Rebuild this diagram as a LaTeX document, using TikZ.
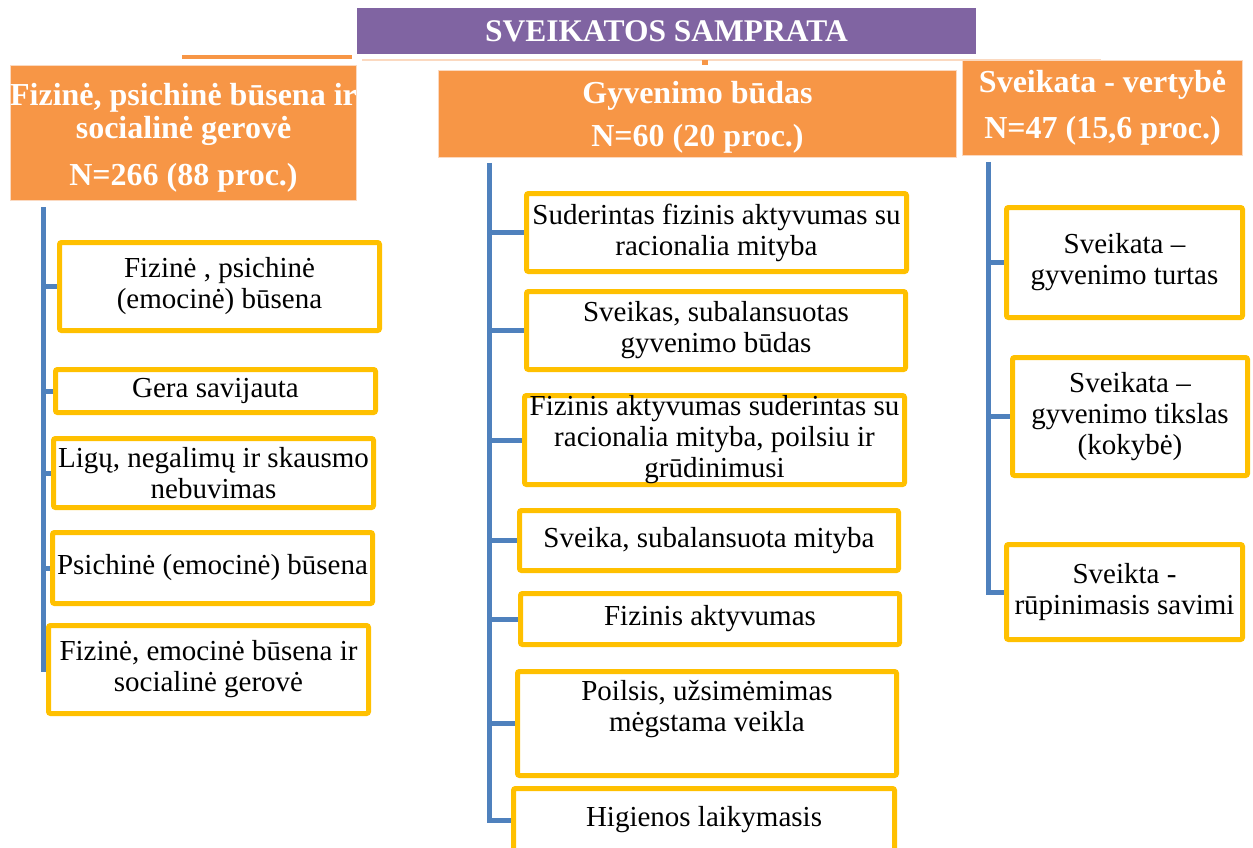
\documentclass[tikz,border=0pt]{standalone}
\usepackage{fontspec}
\setmainfont{Liberation Serif}
\usetikzlibrary{backgrounds}
\definecolor{tpurple}{HTML}{8064A2}
\definecolor{torange}{HTML}{F79646}
\definecolor{tyellow}{HTML}{FFC000}
\definecolor{tblue}{HTML}{4F81BD}
\definecolor{tpeach}{HTML}{FBD9C0}
\newcommand\ybx[7]{\node[#1, minimum width={#5-#3-5}, minimum height={#6-#4-5}] (#2) at ({(#3+#5)/2},{(#4+#6)/2}) {#7};}
\newcommand\hbx[7]{\node[#1, minimum width={#5-#3-1}, minimum height={#6-#4-1}] (#2) at ({(#3+#5)/2},{(#4+#6)/2}) {#7};}
\begin{document}
\begin{tikzpicture}[x=1pt,y=-1pt,
  ybox/.style={draw=tyellow, line width=5pt, rounded corners=2pt, fill=white, inner sep=0pt, align=center, font=\fontsize{29}{31}\selectfont},
  hbox/.style={fill=torange, draw=tpeach, line width=1pt, text=white, inner sep=0pt, align=center, font=\bfseries\fontsize{32}{33}\selectfont},
  titlebox/.style={hbox, fill=tpurple, draw=white, font=\bfseries\fontsize{31.5}{33}\selectfont},
  trunk/.style={draw=tblue, line width=5pt},
  stub/.style={fill=torange},
  thinline/.style={draw=tpeach, line width=1.2pt}]
\useasboundingbox (0,0) rectangle (1253,848);
\clip (0,0) rectangle (1253,848);

% headers
\hbx{titlebox}{h0}{356}{7}{977}{55}{SVEIKATOS SAMPRATA}
\hbx{hbox}{h1}{10}{65}{357}{201}{\rule{0pt}{31pt}Fizinė, psichinė būsena ir\\socialinė gerovė\\[14pt]N=266 (88 proc.)}
\hbx{hbox}{h2}{438}{70}{957}{158}{\rule{0pt}{28pt}Gyvenimo būdas\\[10pt]N=60 (20 proc.)}
\hbx{hbox}{h3}{962}{60}{1243}{156}{Sveikata - vertybė\\[13pt]N=47 (15,6 proc.)}

% top connector fragments
\fill[stub] (182,55) rectangle (352,59);
\draw[thinline] (362,60) -- (1101,60);
\fill[stub] (702,60) rectangle (708,65);

% left column
\ybx{ybox}{l1}{57}{240}{382}{333}{Fizinė , psichinė\\(emocinė) būsena}
\ybx{ybox}{l2}{53}{367}{378}{415}{Gera savijauta}
\ybx{ybox}{l3}{51}{436}{376}{510}{Ligų, negalimų ir skausmo\\nebuvimas}
\ybx{ybox}{l4}{50}{530}{375}{606}{Psichinė (emocinė) būsena}
\ybx{ybox}{l5}{46}{623}{371}{716}{Fizinė, emocinė būsena ir\\socialinė gerovė}

% middle column
\ybx{ybox}{m1}{524}{191}{909}{274}{Suderintas fizinis aktyvumas su\\racionalia mityba}
\ybx{ybox}{m2}{524}{289}{908}{372}{Sveikas, subalansuotas\\gyvenimo būdas}
\ybx{ybox}{m3}{522}{393}{907}{487}{Fizinis aktyvumas suderintas su\\racionalia mityba, poilsiu ir\\grūdinimusi}
\ybx{ybox}{m4}{517}{508}{901}{573}{Sveika, subalansuota mityba}
\ybx{ybox}{m5}{518}{591}{902}{647}{Fizinis aktyvumas}
\ybx{ybox}{m6}{515}{669}{899}{778}{Poilsis, užsimėmimas\\mėgstama veikla\\[4pt]\mbox{}}
\ybx{ybox}{m7}{511}{786}{897}{854}{Higienos laikymasis}

% right column
\ybx{ybox}{r1}{1004}{205}{1245}{320}{Sveikata –\\gyvenimo turtas}
\ybx{ybox}{r2}{1010}{355}{1250}{478}{Sveikata –\\gyvenimo tikslas\\(kokybė)}
\ybx{ybox}{r3}{1004}{542}{1245}{642}{Sveikta -\\rūpinimasis savimi}

\coordinate (lt) at (43,207);
\coordinate (mt) at (489,163);
\coordinate (rt) at (988,162);

\begin{scope}[on background layer]
\draw[trunk] (lt) |- (l5.west);
\foreach \n in {l1,l2,l3,l4} \draw[trunk] (lt |- \n.west) -- (\n.west);
\draw[trunk] (mt) |- (m7.west);
\foreach \n in {m1,m2,m3,m4,m5,m6} \draw[trunk] (mt |- \n.west) -- (\n.west);
\draw[trunk] (rt) |- (r3.west);
\foreach \n in {r1,r2} \draw[trunk] (rt |- \n.west) -- (\n.west);
\end{scope}
\end{tikzpicture}
\end{document}
